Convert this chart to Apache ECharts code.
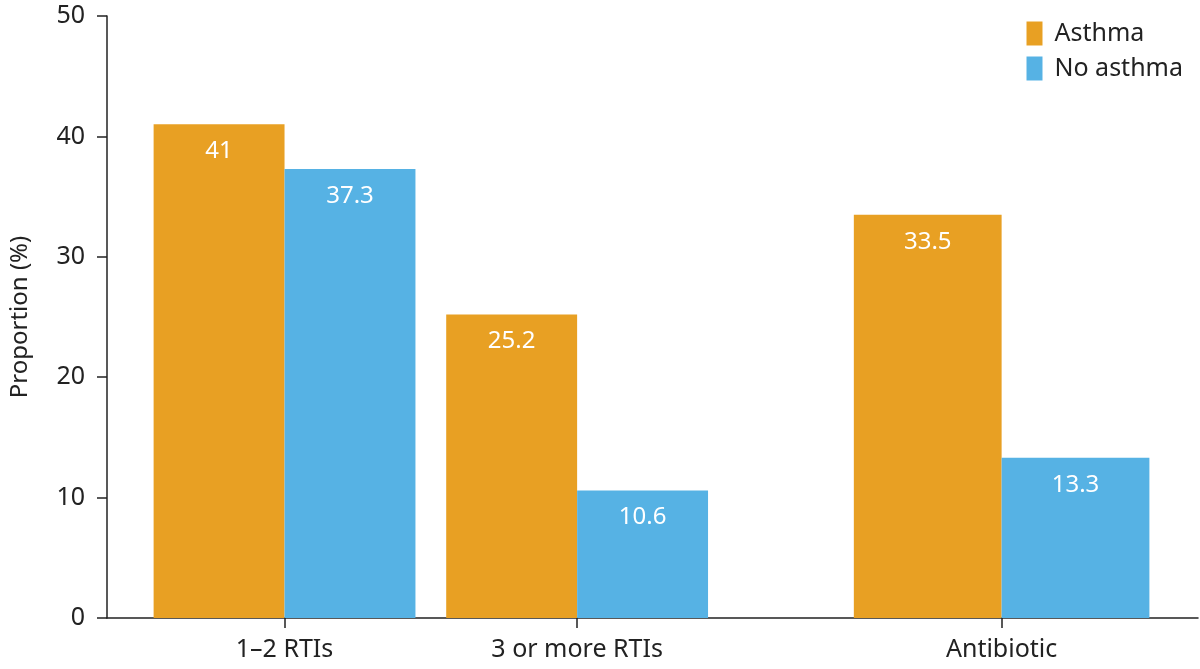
<html>
<head>
<meta http-equiv="Content-Type" content="text/html; charset=utf-8" />
<style type="text/css">
html, body {margin: 0; padding: 0; background-color: #fff}
</style>
</head>
<body>
<div id="main" style="width:1200px;height:669px;"></div>
</body>

<script src="https://cdn.jsdelivr.net/npm/echarts@6/dist/echarts.min.js"></script>
<script type="text/javascript">

// data
var categories = ['1\u20132 RTIs', '3 or more RTIs', 'Antibiotic'];
var asthma = [41, 25.2, 33.5];
var noAsthma = [37.3, 10.6, 13.3];
var yTicks = [0, 10, 20, 30, 40, 50];

// layout: group centre on the x scale and bar width (same units)
var groupPos = [179, 474, 902];
var groupWidth = [132, 132, 149];

var FONT = 'Noto Sans';

function buildData(values) {
    var out = [];
    for (var i = 0; i < values.length; i++) {
        out.push([groupPos[i], values[i], groupWidth[i]]);
    }
    return out;
}

function barRenderer(side) {
    return function (params, api) {
        var pos = api.value(0);
        var val = api.value(1);
        var w = api.value(2);
        var top = api.coord([pos, val]);
        var base = api.coord([pos, 0]);
        var pw = api.size([w, 0])[0];
        var x = side < 0 ? top[0] - pw : top[0];
        return {
            type: 'rect',
            shape: { x: x, y: top[1], width: pw, height: base[1] - top[1] },
            style: { fill: api.visual('color') },
            textContent: {
                style: { text: String(val), fill: '#fff', font: '24px "' + FONT + '"' }
            },
            textConfig: { position: 'insideTop', distance: 15 }
        };
    };
}

var myChart = echarts.init(document.getElementById('main'));

option = {
    animation: false,
    textStyle: { fontFamily: FONT },
    grid: { left: 100, right: 2, top: 16, bottom: 51 },
    legend: {
        orient: 'vertical',
        right: 12,
        top: 16,
        icon: 'rect',
        itemWidth: 16,
        itemHeight: 24,
        itemGap: 10,
        textStyle: { fontSize: 25, color: '#222', padding: [0, 0, 0, 7] },
        data: ['Asthma', 'No asthma']
    },
    xAxis: {
        type: 'value',
        min: 0,
        max: 1100,
        splitLine: { show: false },
        axisLine: { show: true, onZero: false, lineStyle: { color: '#222', width: 1.5 } },
        axisTick: {
            show: true,
            length: 10,
            customValues: groupPos,
            lineStyle: { color: '#222', width: 1.5 }
        },
        axisLabel: {
            fontSize: 25,
            color: '#222',
            margin: 19,
            customValues: groupPos,
            formatter: function (v) {
                var i = groupPos.indexOf(v);
                return i >= 0 ? categories[i] : '';
            }
        }
    },
    yAxis: {
        type: 'value',
        min: yTicks[0],
        max: yTicks[yTicks.length - 1],
        interval: 10,
        name: 'Proportion (%)',
        nameLocation: 'middle',
        nameGap: 75,
        nameTextStyle: { fontSize: 24, color: '#222' },
        splitLine: { show: false },
        axisLine: { show: true, lineStyle: { color: '#222', width: 1.5 } },
        axisTick: { show: true, length: 10, lineStyle: { color: '#222', width: 1.5 } },
        axisLabel: { fontSize: 25, color: '#222', margin: 22 }
    },
    series: [{
        name: 'Asthma',
        type: 'custom',
        itemStyle: { color: '#E8A023' },
        encode: { x: 0, y: 1 },
        renderItem: barRenderer(-1),
        data: buildData(asthma)
    }, {
        name: 'No asthma',
        type: 'custom',
        itemStyle: { color: '#56B2E4' },
        encode: { x: 0, y: 1 },
        renderItem: barRenderer(1),
        data: buildData(noAsthma)
    }]
};

myChart.setOption(option);
</script>
</html>
